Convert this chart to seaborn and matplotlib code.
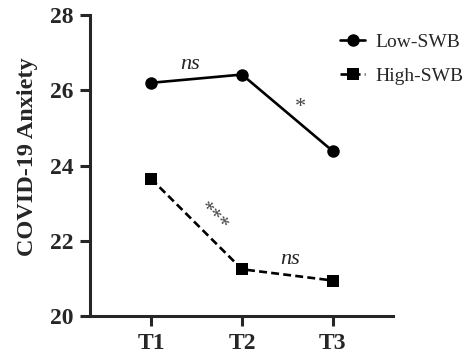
import pandas as pd
import numpy as np
import matplotlib.pyplot as plt
import seaborn as sns

# Data
times = ['T1', 'T2', 'T3']
low_swb = [26.2, 26.42, 24.38]
high_swb = [23.65, 21.24, 20.94]
groups = ['Low-SWB', 'High-SWB']

df = pd.DataFrame({
    'time': times * 2,
    'anxiety': low_swb + high_swb,
    'group': [groups[0]] * 3 + [groups[1]] * 3,
})
df['x'] = df['time'].map({t: i for i, t in enumerate(times)})

sns.set_style('ticks')
plt.rcParams['font.family'] = ['Liberation Serif', 'DejaVu Serif']

fig = plt.figure(figsize=(4.74, 3.61), dpi=100)
ax = fig.add_axes([0.19, 0.125, 0.639, 0.833])

sns.lineplot(data=df, x='x', y='anxiety', hue='group', style='group',
             markers={'Low-SWB': 'o', 'High-SWB': 's'},
             dashes={'Low-SWB': '', 'High-SWB': (3, 1.6)},
             palette={'Low-SWB': 'black', 'High-SWB': 'black'},
             markersize=9, linewidth=1.9, markeredgewidth=0, ax=ax)

ax.set_xlim(-0.67, 2.66)
ax.set_ylim(20, 28)
ax.set_xticks(range(len(times)))
ax.set_xticklabels(times, fontweight='bold', fontsize=17)
ax.set_yticks([20, 22, 24, 26, 28])
ax.set_yticklabels(['20', '22', '24', '26', '28'], fontweight='bold', fontsize=17)
ax.set_xlabel('')
ax.set_ylabel('COVID-19 Anxiety', fontweight='bold', fontsize=17.5)
ax.yaxis.set_label_coords(-0.172, 0.53)
ax.tick_params(length=7, width=2.2, pad=5)
for s in ['left', 'bottom']:
    ax.spines[s].set_linewidth(2.2)
sns.despine(ax=ax)

# significance annotations
ax.text(0.43, 26.7, 'ns', style='italic', fontsize=16, ha='center', va='center')
ax.text(1.64, 25.55, '*', fontsize=16, ha='center', va='center', color='#444444')
ax.text(0.68, 22.6, '***', fontsize=16, ha='center', va='center',
        rotation=-45, color='#444444')
ax.text(1.53, 21.5, 'ns', style='italic', fontsize=16, ha='center', va='center')

handles, labels = ax.get_legend_handles_labels()
ax.legend(handles, labels, loc='upper left', bbox_to_anchor=(0.825, 0.94),
          frameon=False, fontsize=14, handlelength=1.3, handletextpad=0.5,
          labelspacing=0.85, borderaxespad=0, borderpad=0)

fig.savefig('out.png', dpi=100)
